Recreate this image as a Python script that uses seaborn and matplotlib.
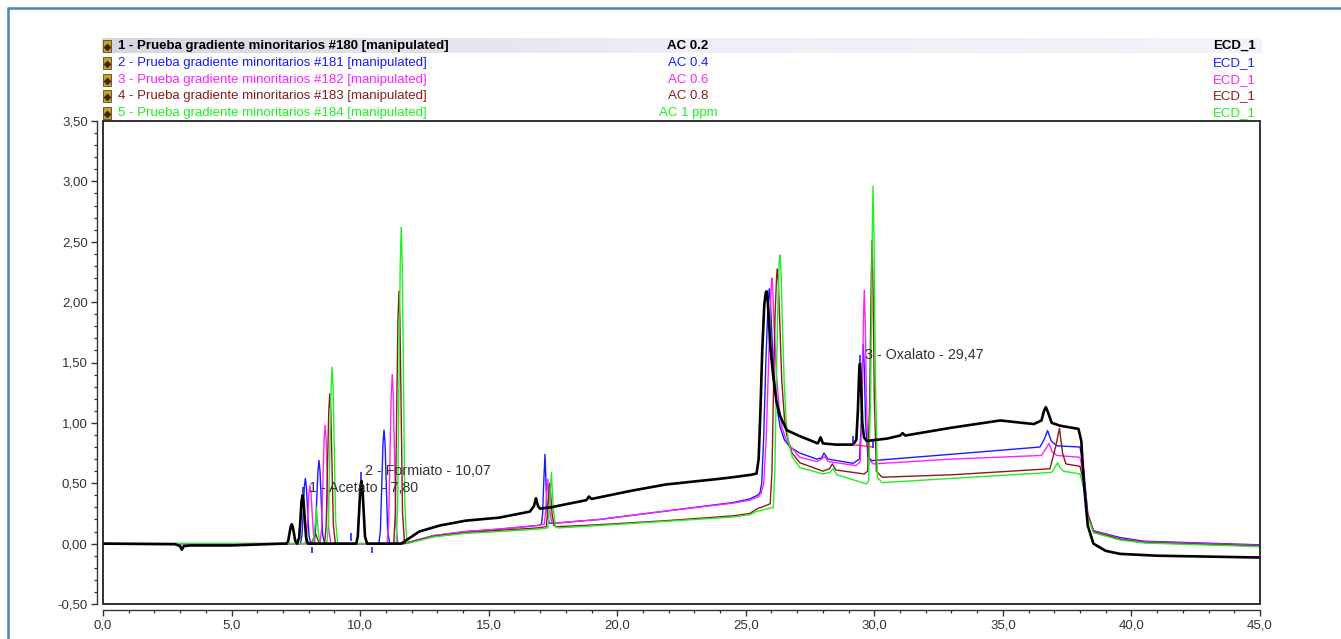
import numpy as np
import pandas as pd
import matplotlib
matplotlib.use("Agg")
import matplotlib.pyplot as plt
from matplotlib.ticker import MultipleLocator, FuncFormatter
from matplotlib.patches import Rectangle
from matplotlib.lines import Line2D
from matplotlib.colors import LinearSegmentedColormap
import seaborn as sns

# ---------------- data ----------------
black_t = [0.0, 2.8, 3.0, 3.06, 3.15, 3.4, 5.0, 7.0,
           7.14, 7.20, 7.25, 7.30, 7.34, 7.38, 7.43, 7.48, 7.55,
           7.63, 7.68, 7.72, 7.76, 7.80, 7.85, 7.90, 7.97,
           9.85, 9.91, 9.96, 10.01, 10.05, 10.09, 10.14, 10.19, 10.27,
           11.6, 12.3, 13.1, 14.1, 15.4, 16.6, 16.76, 16.84, 16.92, 17.0, 17.4,
           18.8, 18.9, 19.0, 20.6, 21.9, 23.9, 24.5, 25.2,
           25.42, 25.5, 25.57, 25.64, 25.72, 25.78, 25.81, 25.85, 25.9, 25.96, 26.07, 26.2, 26.33, 26.59, 27.1,
           27.8, 27.91, 28.0, 28.5, 29.17, 29.3, 29.36, 29.41, 29.44, 29.48, 29.53, 29.6, 29.7,
           30.5, 31.0, 31.1, 31.2, 33.0, 34.9, 36.2, 36.5, 36.6, 36.67, 36.75, 36.9, 37.22, 37.94,
           38.05, 38.15, 38.3, 38.52, 39.0, 39.56, 41.0, 45.0]
black_y = [0.0, -0.005, -0.02, -0.05, -0.02, -0.015, -0.015, 0.0,
           0.0, 0.02, 0.08, 0.14, 0.16, 0.14, 0.08, 0.02, 0.0,
           0.05, 0.20, 0.35, 0.40, 0.35, 0.20, 0.05, 0.0,
           0.0, 0.06, 0.26, 0.46, 0.52, 0.46, 0.26, 0.06, 0.0,
           0.0, 0.10, 0.15, 0.19, 0.215, 0.265, 0.31, 0.375, 0.31, 0.29, 0.30,
           0.36, 0.39, 0.37, 0.44, 0.49, 0.535, 0.55, 0.57,
           0.58, 0.7, 1.1, 1.6, 1.98, 2.08, 2.09, 2.02, 1.85, 1.62, 1.38, 1.17, 1.06, 0.94, 0.89,
           0.83, 0.88, 0.83, 0.82, 0.82, 0.86, 1.1, 1.42, 1.49, 1.35, 1.0, 0.88, 0.85,
           0.87, 0.895, 0.915, 0.895, 0.96, 1.02, 0.99, 1.02, 1.10, 1.13, 1.09, 1.0, 0.977, 0.95,
           0.85, 0.5, 0.15, 0.0, -0.06, -0.085, -0.10, -0.115]

blue_t = [0.0, 7.0, 7.68, 7.74, 7.79, 7.83, 7.87, 7.91, 7.96, 8.01, 8.08,
          8.20, 8.26, 8.31, 8.36, 8.40, 8.44, 8.49, 8.54, 8.62,
          10.73, 10.79, 10.84, 10.89, 10.93, 10.97, 11.02, 11.07, 11.15,
          11.7, 12.85, 14.1, 15.4, 16.9, 17.05, 17.10, 17.14, 17.19, 17.23, 17.28, 17.35, 17.6,
          19.3, 21.9, 24.5, 25.16, 25.45, 25.55,
          25.62, 25.7, 25.78, 25.85, 25.9, 25.92, 25.96, 26.0, 26.07, 26.2, 26.33, 26.5, 26.72, 27.1,
          27.76, 27.95, 28.04, 28.2, 29.17, 29.42, 29.49, 29.54, 29.57, 29.61, 29.66, 29.75, 29.9,
          33.0, 36.44, 36.6, 36.74, 36.88, 37.1, 38.0, 38.15, 38.3, 38.52, 39.56, 40.5, 45.0]
blue_y = [0.0, 0.0, 0.0, 0.07, 0.27, 0.47, 0.54, 0.47, 0.27, 0.07, 0.0,
          0.0, 0.08, 0.35, 0.60, 0.69, 0.60, 0.35, 0.08, 0.0,
          0.0, 0.11, 0.47, 0.83, 0.94, 0.83, 0.47, 0.11, 0.0,
          0.0, 0.066, 0.10, 0.12, 0.15, 0.16, 0.25, 0.50, 0.74, 0.50, 0.25, 0.17, 0.17,
          0.20, 0.27, 0.34, 0.37, 0.40, 0.42,
          0.5, 0.9, 1.5, 1.9, 2.08, 2.11, 2.0, 1.8, 1.48, 1.15, 0.97, 0.86, 0.80, 0.75,
          0.70, 0.71, 0.75, 0.70, 0.665, 0.70, 1.0, 1.5, 1.65, 1.45, 1.0, 0.72, 0.687,
          0.74, 0.80, 0.86, 0.936, 0.85, 0.81, 0.80, 0.6, 0.25, 0.108, 0.05, 0.02, -0.01]

magenta_t = [0.0, 7.86, 7.92, 7.97, 8.01, 8.05, 8.09, 8.14, 8.19, 8.26,
             8.44, 8.50, 8.55, 8.60, 8.64, 8.68, 8.73, 8.78, 8.86,
             11.05, 11.11, 11.16, 11.21, 11.25, 11.29, 11.34, 11.39, 11.47,
             11.7, 12.85, 14.1, 15.4, 16.9, 17.16, 17.21, 17.25, 17.3, 17.34, 17.39, 17.46, 17.6,
             19.3, 21.9, 24.5, 25.16, 25.5, 25.6,
             25.7, 25.8, 25.88, 25.95, 26.0, 26.02, 26.06, 26.1, 26.2, 26.3, 26.4, 26.55, 26.72, 27.1,
             27.76, 27.95, 28.06, 28.2, 29.3, 29.45, 29.52, 29.58, 29.61, 29.65, 29.70, 29.78, 29.95,
             33.0, 36.5, 36.65, 36.79, 36.92, 37.1, 38.0, 38.15, 38.3, 38.52, 39.56, 40.5, 45.0]
magenta_y = [0.0, 0.0, 0.06, 0.24, 0.42, 0.48, 0.42, 0.24, 0.06, 0.0,
             0.0, 0.12, 0.49, 0.86, 0.98, 0.86, 0.49, 0.12, 0.0,
             0.0, 0.17, 0.70, 1.23, 1.40, 1.23, 0.70, 0.17, 0.0,
             0.0, 0.066, 0.10, 0.12, 0.15, 0.16, 0.25, 0.40, 0.535, 0.40, 0.25, 0.17, 0.17,
             0.20, 0.27, 0.335, 0.36, 0.39, 0.42,
             0.5, 0.9, 1.45, 1.95, 2.17, 2.20, 2.05, 1.8, 1.38, 1.12, 0.97, 0.87, 0.81, 0.715,
             0.68, 0.70, 0.72, 0.68, 0.646, 0.68, 1.1, 1.9, 2.10, 1.8, 1.1, 0.70, 0.66,
             0.70, 0.73, 0.78, 0.83, 0.76, 0.73, 0.715, 0.55, 0.25, 0.108, 0.04, 0.015, -0.015]

brown_t = [0.0, 8.1, 8.18, 8.26, 8.34, 8.42,
           8.62, 8.68, 8.73, 8.78, 8.82, 8.86, 8.91, 8.96, 9.04,
           11.31, 11.37, 11.42, 11.47, 11.51, 11.55, 11.60, 11.65, 11.73,
           12.85, 14.1, 15.4, 16.9, 17.24, 17.29, 17.33, 17.38, 17.42, 17.47, 17.54, 17.65,
           19.3, 21.9, 24.5, 25.16, 25.45, 25.6, 25.95,
           26.02, 26.08, 26.14, 26.2, 26.23, 26.27, 26.32, 26.4, 26.5, 26.59, 26.8, 27.1,
           28.0, 28.25, 28.37, 28.5, 29.6, 29.74, 29.82, 29.88, 29.91, 29.95, 30.0, 30.08, 30.3,
           33.0, 36.83, 37.05, 37.2, 37.32, 37.45, 38.0, 38.15, 38.3, 38.52, 39.56, 40.5, 45.0]
brown_y = [0.0, 0.0, 0.04, 0.09, 0.04, 0.0,
           0.0, 0.15, 0.62, 1.09, 1.24, 1.09, 0.62, 0.15, 0.0,
           0.0, 0.25, 1.05, 1.84, 2.09, 1.84, 1.05, 0.25, 0.0,
           0.06, 0.09, 0.11, 0.13, 0.14, 0.25, 0.38, 0.50, 0.38, 0.24, 0.15, 0.14,
           0.157, 0.19, 0.23, 0.25, 0.29, 0.30, 0.33,
           0.6, 1.3, 1.9, 2.22, 2.275, 2.15, 1.85, 1.35, 1.05, 0.9, 0.75, 0.67,
           0.60, 0.62, 0.66, 0.61, 0.577, 0.60, 1.2, 2.2, 2.51, 2.1, 1.2, 0.6, 0.55,
           0.57, 0.62, 0.80, 0.955, 0.75, 0.66, 0.64, 0.5, 0.24, 0.10, 0.035, 0.01, -0.02]

green_t = [0.0, 8.14, 8.20, 8.25, 8.30, 8.35, 8.40, 8.46,
           8.71, 8.77, 8.82, 8.87, 8.91, 8.95, 9.00, 9.05, 9.13,
           11.40, 11.46, 11.51, 11.56, 11.60, 11.64, 11.69, 11.74, 11.82,
           12.85, 14.1, 15.4, 16.9, 17.30, 17.35, 17.39, 17.44, 17.48, 17.53, 17.60, 17.7,
           19.3, 21.9, 24.5, 25.16, 25.45, 25.6, 26.07,
           26.13, 26.19, 26.25, 26.3, 26.33, 26.37, 26.42, 26.5, 26.58, 26.65, 26.8, 27.1,
           28.0, 28.28, 28.39, 28.55, 29.7, 29.78, 29.86, 29.92, 29.95, 29.99, 30.04, 30.12, 30.3,
           33.0, 36.9, 37.05, 37.13, 37.22, 37.35, 38.0, 38.15, 38.3, 38.52, 39.56, 40.5, 45.0]
green_y = [0.0, 0.0, 0.05, 0.16, 0.30, 0.16, 0.05, 0.0,
           0.0, 0.18, 0.73, 1.28, 1.46, 1.28, 0.73, 0.18, 0.0,
           0.0, 0.31, 1.31, 2.31, 2.62, 2.31, 1.31, 0.31, 0.0,
           0.055, 0.085, 0.10, 0.12, 0.13, 0.25, 0.42, 0.59, 0.42, 0.26, 0.14, 0.13,
           0.15, 0.185, 0.22, 0.24, 0.27, 0.275, 0.30,
           0.6, 1.35, 2.0, 2.33, 2.39, 2.25, 1.85, 1.3, 1.0, 0.86, 0.72, 0.63,
           0.577, 0.59, 0.62, 0.57, 0.494, 0.52, 1.3, 2.6, 2.96, 2.5, 1.4, 0.55, 0.505,
           0.54, 0.59, 0.64, 0.67, 0.63, 0.60, 0.577, 0.45, 0.22, 0.09, 0.03, 0.005, -0.025]

legend_names = ["1 - Prueba gradiente minoritarios #180 [manipulated]",
                "2 - Prueba gradiente minoritarios #181 [manipulated]",
                "3 - Prueba gradiente minoritarios #182 [manipulated]",
                "4 - Prueba gradiente minoritarios #183 [manipulated]",
                "5 - Prueba gradiente minoritarios #184 [manipulated]"]
legend_samples = ["AC 0.2", "AC 0.4", "AC 0.6", "AC 0.8", "AC 1 ppm"]
legend_channel = ["ECD_1", "ECD_1", "ECD_1", "ECD_1", "ECD_1"]

peak_labels = ["1 - Acetato - 7,80", "2 - Formiato - 10,07", "3 - Oxalato - 29,47"]
peak_label_t = [8.0, 10.2, 29.65]
peak_label_y = [0.464, 0.605, 1.565]

# integration delimiter marks
mark_t = [7.79, 8.13, 9.65, 10.03, 10.46, 29.17, 29.44, 29.95]
mark_y0 = [0.41, -0.08, 0.025, 0.53, -0.08, 0.83, 1.50, 0.79]
mark_y1 = [0.47, -0.03, 0.085, 0.59, -0.03, 0.89, 1.56, 0.85]
base_t = [29.17, 29.95]
base_y = [0.82, 0.80]

# ---------------- styling ----------------
sns.set_style("ticks")
plt.rcParams["font.family"] = ["Liberation Sans", "DejaVu Sans"]

W, H = 1341, 639
fig = plt.figure(figsize=(W / 100, H / 100), dpi=100)
fig.patch.set_facecolor("white")


def fx(px):
    return px / W


def fy(py):
    return 1 - py / H


ax = fig.add_axes([fx(103), fy(604), fx(1260) - fx(103), fy(121) - fy(604)])
ax.set_facecolor("white")

colors = ["#000000", "#1a1aff", "#ff22ff", "#8b1c1c", "#22ee22"]
series = [(blue_t, blue_y, colors[1]), (magenta_t, magenta_y, colors[2]),
          (brown_t, brown_y, colors[3]), (green_t, green_y, colors[4])]
for i, (t, y, c) in enumerate(series):
    df = pd.DataFrame({"t": t, "v": y})
    sns.lineplot(data=df, x="t", y="v", color=c, lw=1.0, ax=ax, estimator=None, sort=False, zorder=2 + i * 0.1)
dfb = pd.DataFrame({"t": black_t, "v": black_y})
sns.lineplot(data=dfb, x="t", y="v", color=colors[0], lw=1.9, ax=ax, estimator=None, sort=False, zorder=3)

ax.vlines(mark_t, mark_y0, mark_y1, color="#2020ff", lw=1.2, zorder=4)
ax.plot(base_t, base_y, color="#ff2020", lw=0.9, zorder=3.5)

for lab, t, y in zip(peak_labels, peak_label_t, peak_label_y):
    ax.text(t, y, lab, ha="left", va="center", fontsize=10.3, color="#333333", zorder=5)

ax.set_xlim(0, 45)
ax.set_ylim(-0.5, 3.5)
ax.set_xlabel("")
ax.set_ylabel("")
ax.xaxis.set_major_locator(MultipleLocator(5))
ax.xaxis.set_minor_locator(MultipleLocator(1))
ax.yaxis.set_major_locator(MultipleLocator(0.5))
ax.yaxis.set_minor_locator(MultipleLocator(0.1))
ax.xaxis.set_major_formatter(FuncFormatter(lambda v, p: f"{v:.1f}".replace(".", ",")))
ax.yaxis.set_major_formatter(FuncFormatter(lambda v, p: f"{v:.2f}".replace(".", ",")))
ax.tick_params(which="major", length=4.5, width=1.0, color="#333333", labelsize=9.5, labelcolor="#333333", pad=2.5)
ax.tick_params(which="minor", length=2.5, width=0.9, color="#333333")

for s in ["top", "right"]:
    ax.spines[s].set_visible(False)
for s in ["left", "bottom"]:
    ax.spines[s].set_position(("outward", 4))
    ax.spines[s].set_color("#333333")
    ax.spines[s].set_linewidth(1.0)
ax.add_patch(Rectangle((0, 0), 1, 1, transform=ax.transAxes, fill=False, edgecolor="#222222",
                       lw=1.3, clip_on=False, zorder=6))

# ---------------- header legend ----------------
grad_ax = fig.add_axes([fx(102), fy(53), fx(1262) - fx(102), fy(38) - fy(53)])
grad = np.linspace(0, 1, 256)[None, :]
cmap = LinearSegmentedColormap.from_list("hl", ["#d6d6e0", "#eeeef6", "#f3f3fa"])
grad_ax.imshow(grad, aspect="auto", cmap=cmap, extent=[0, 1, 0, 1])
grad_ax.set_axis_off()

row_y = [46, 63, 80, 96, 113]
for i in range(5):
    yy = fy(row_y[i])
    c = colors[i]
    bold = "bold" if i == 0 else "normal"
    fig.text(fx(118), yy, legend_names[i], ha="left", va="center", fontsize=9.5, color=c, fontweight=bold)
    fig.text(fx(688), yy, legend_samples[i], ha="center", va="center", fontsize=9.5, color=c, fontweight=bold)
    fig.text(fx(1256), yy, legend_channel[i], ha="right", va="center", fontsize=9.5, color=c, fontweight=bold)
    fig.patches.append(Rectangle((fx(103), fy(row_y[i] + 6)), fx(8), fy(0) - fy(12),
                                 transform=fig.transFigure, facecolor="#c9a030", edgecolor="#5a4a10",
                                 lw=0.6, zorder=2))
    fig.lines.append(Line2D([fx(107)], [fy(row_y[i] + 1)], marker="D", markersize=3, color="#3a2a05",
                            transform=fig.transFigure, zorder=3))

# ---------------- outer blue frame ----------------
fig.lines.append(Line2D([fx(8), fx(8)], [0, fy(8)], color="#4f81bd", lw=1.8, transform=fig.transFigure))
fig.lines.append(Line2D([fx(8), 1], [fy(8), fy(8)], color="#4f81bd", lw=1.8, transform=fig.transFigure))

fig.savefig("out.png", dpi=100, facecolor="white")
